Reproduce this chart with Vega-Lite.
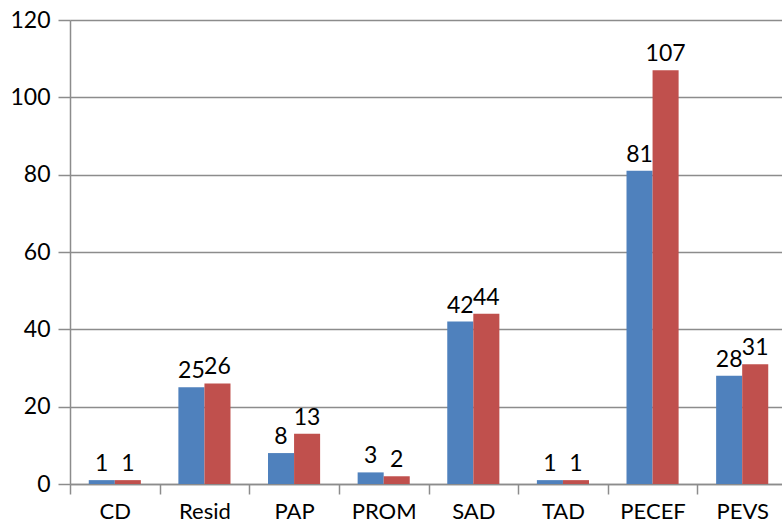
{
  "$schema": "https://vega.github.io/schema/vega-lite/v6.json",
  "autosize": "none",
  "width": 717,
  "height": 464,
  "padding": {"left": 70, "top": 20, "right": 0, "bottom": 44},
  "background": "white",
  "config": {
    "view": {"stroke": null},
    "font": "Lato"
  },
  "data": {
    "values": [
      {"cat": "CD", "series": "A", "value": 1},
      {"cat": "CD", "series": "B", "value": 1},
      {"cat": "Resid", "series": "A", "value": 25},
      {"cat": "Resid", "series": "B", "value": 26},
      {"cat": "PAP", "series": "A", "value": 8},
      {"cat": "PAP", "series": "B", "value": 13},
      {"cat": "PROM", "series": "A", "value": 3},
      {"cat": "PROM", "series": "B", "value": 2},
      {"cat": "SAD", "series": "A", "value": 42},
      {"cat": "SAD", "series": "B", "value": 44},
      {"cat": "TAD", "series": "A", "value": 1},
      {"cat": "TAD", "series": "B", "value": 1},
      {"cat": "PECEF", "series": "A", "value": 81},
      {"cat": "PECEF", "series": "B", "value": 107},
      {"cat": "PEVS", "series": "A", "value": 28},
      {"cat": "PEVS", "series": "B", "value": 31}
    ]
  },
  "encoding": {
    "x": {
      "field": "cat",
      "type": "nominal",
      "sort": null,
      "scale": {"paddingInner": 0, "paddingOuter": 0},
      "axis": {
        "title": null,
        "labelAngle": 0,
        "labelFont": "Lato",
        "labelFontSize": 22,
        "labelColor": "#000000",
        "labelPadding": 7,
        "domainColor": "#8c8c8c",
        "domainWidth": 1.5,
        "tickColor": "#8c8c8c",
        "tickWidth": 1.5,
        "tickSize": 10,
        "tickBand": "extent",
        "grid": false
      }
    },
    "xOffset": {
      "field": "series",
      "type": "nominal",
      "scale": {"paddingInner": 0, "paddingOuter": 0.72}
    },
    "y": {
      "field": "value",
      "type": "quantitative",
      "scale": {"domain": [0, 120], "nice": false},
      "axis": {
        "title": null,
        "values": [0, 20, 40, 60, 80, 100, 120],
        "labelFont": "Lato",
        "labelFontSize": 23,
        "labelColor": "#000000",
        "labelPadding": 8,
        "domainColor": "#8c8c8c",
        "domainWidth": 1.5,
        "tickColor": "#8c8c8c",
        "tickWidth": 1.5,
        "tickSize": 12,
        "gridColor": "#8c8c8c",
        "gridWidth": 1.5
      }
    }
  },
  "layer": [
    {
      "mark": {"type": "bar"},
      "encoding": {
        "color": {
          "field": "series",
          "type": "nominal",
          "scale": {"domain": ["A", "B"], "range": ["#4F81BD", "#C0504D"]},
          "legend": null
        }
      }
    },
    {
      "mark": {"type": "text", "baseline": "bottom", "dy": -4, "fontSize": 23, "font": "Lato", "color": "#000000"},
      "encoding": {
        "text": {"field": "value", "type": "quantitative"}
      }
    }
  ]
}
